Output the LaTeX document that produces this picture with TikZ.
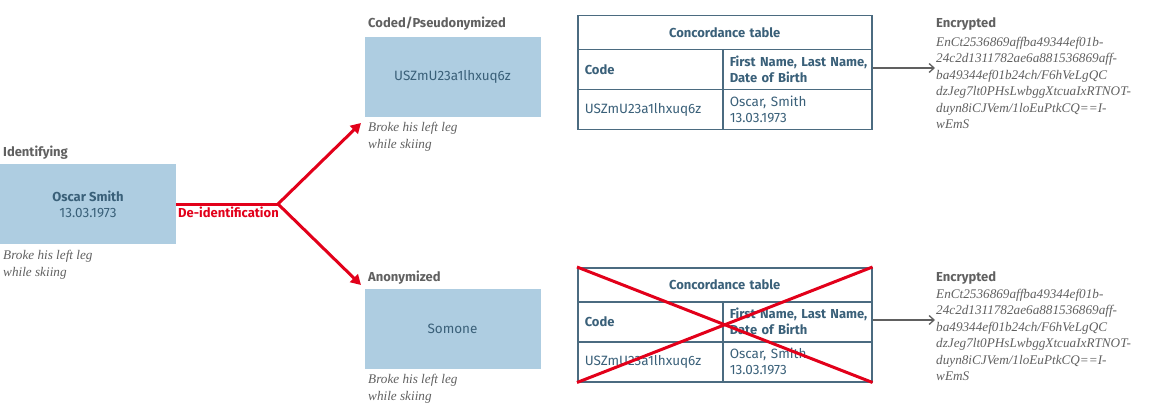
\documentclass[tikz,border=0pt]{standalone}
\usepackage{fontspec}
\setmainfont{Liberation Serif}
\setsansfont{Fira Sans}
\usetikzlibrary{arrows.meta}

\definecolor{boxblue}{HTML}{AECDE1}
\definecolor{darkteal}{HTML}{3A6079}
\definecolor{labelgray}{HTML}{606060}
\definecolor{tableline}{HTML}{4B6B80}
\definecolor{cutred}{HTML}{E2001A}

\tikzset{
  databox/.style={fill=boxblue, minimum width=176pt, minimum height=80pt, inner sep=0pt,
    text=darkteal, align=center, font=\sffamily\fontsize{13.5}{16}\selectfont},
  title/.style={anchor=base west, inner sep=0pt, text=labelgray,
    font=\sffamily\bfseries\fontsize{13}{15}\selectfont},
  note/.style={anchor=north west, inner sep=0pt, text=labelgray, align=left,
    font=\itshape\fontsize{13.2}{17}\selectfont},
  cipher/.style={anchor=north west, inner sep=0pt, text=labelgray, align=left,
    font=\itshape\fontsize{13.2}{16.5}\selectfont},
  cell/.style={draw=tableline, line width=1.5pt, anchor=north west, inner ysep=0pt,
    inner xsep=7pt, text=darkteal, align=left, font=\sffamily\fontsize{13.5}{16}\selectfont},
  leftcell/.style={cell, text width=131pt, minimum height=40pt},
  rightcell/.style={cell, text width=135pt, minimum height=40pt},
  headcell/.style={cell, text width=280pt, minimum height=34pt, align=center},
  bold/.style={font=\sffamily\bfseries\fontsize{13}{16}\selectfont},
  redline/.style={draw=cutred, line width=3pt},
  encarrow/.style={draw=labelgray, line width=1.3pt, -{Straight Barb[length=5pt,width=9pt]}}
}

\begin{document}
\begin{tikzpicture}[x=1pt, y=-1pt]
\useasboundingbox (0,0) rectangle (1174,414);

% identifying data
\node[title] (idtitle) at (3,157) {Identifying};
\node[databox] (idbox) at (88,204) {\textbf{\fontsize{13}{16}\selectfont Oscar Smith}\\13.03.1973};
\node[note] (idnote) at (3,250.5) {Broke his left leg\\while skiing};

% coded
\node[title] (codetitle) at (368,28) {Coded/Pseudonymized};
\node[databox] (codebox) at (452.5,77) {USZmU23a1lhxuq6z};
\node[note] (codenote) at (368,122) {Broke his left leg\\while skiing};

% anonymized
\node[title] (anontitle) at (368,281) {Anonymized};
\node[databox] (anonbox) at (452.5,329) {Somone};
\node[note] (anonnote) at (368,374.5) {Broke his left leg\\while skiing};

% de-identification
\coordinate (split) at (278,204);
\coordinate (codein) at (361,123);
\coordinate (anonin) at (361,285);
\node[anchor=base west, inner sep=0pt, text=cutred, font=\sffamily\bfseries\fontsize{13}{15}\selectfont]
  (deid) at (178,217.5) {De-identification};
\draw[redline] (idbox.east) -- (split);
\draw[redline, -{Triangle[length=10pt,width=11pt]}] (split) -- (codein);
\draw[redline, -{Triangle[length=10pt,width=11pt]}] (split) -- (anonin);

% concordance table (coded)
\node[headcell, bold] (thead) at (577,15) {Concordance table};
\node[leftcell, bold] (tcode) at (577,49) {Code};
\node[rightcell, bold] (tnames) at (722,49) {\mbox{First Name, Last Name,}\\Date of Birth};
\node[leftcell] (tkey) at (577,89) {USZmU23a1lhxuq6z};
\node[rightcell] (tval) at (722,89) {Oscar, Smith\\13.03.1973};

\node[title] (enctitle) at (936,28) {Encrypted};
\node[cipher] (enctext) at (936,37) {EnCt2536869affba49344ef01b-\\24c2d1311782ae6a881536869aff-\\ba49344ef01b24ch/F6hVeLgQC\\dzJeg7lt0PHsLwbggXtcuaIxRTNOT-\\duyn8iCJVem/1loEuPtkCQ==I-\\wEmS};
\coordinate (encin) at (935,68);
\draw[encarrow] (tnames.east |- encin) -- (encin);

% concordance table (anonymized, crossed out)
\node[headcell, bold] (bhead) at (577,267) {Concordance table};
\node[leftcell, bold] (bcode) at (577,301) {Code};
\node[rightcell, bold] (bnames) at (722,301) {\mbox{First Name, Last Name,}\\Date of Birth};
\node[leftcell] (bkey) at (577,341) {USZmU23a1lhxuq6z};
\node[rightcell] (bval) at (722,341) {Oscar, Smith\\13.03.1973};

\node[title] (benctitle) at (936,281) {Encrypted};
\node[cipher] (benctext) at (936,289) {EnCt2536869affba49344ef01b-\\24c2d1311782ae6a881536869aff-\\ba49344ef01b24ch/F6hVeLgQC\\dzJeg7lt0PHsLwbggXtcuaIxRTNOT-\\duyn8iCJVem/1loEuPtkCQ==I-\\wEmS};
\coordinate (bencin) at (935,320);
\draw[encarrow] (bnames.east |- bencin) -- (bencin);

\draw[redline] (bhead.north west) -- (bval.south east);
\draw[redline] (bkey.south west) -- (bhead.north east);

\end{tikzpicture}
\end{document}
